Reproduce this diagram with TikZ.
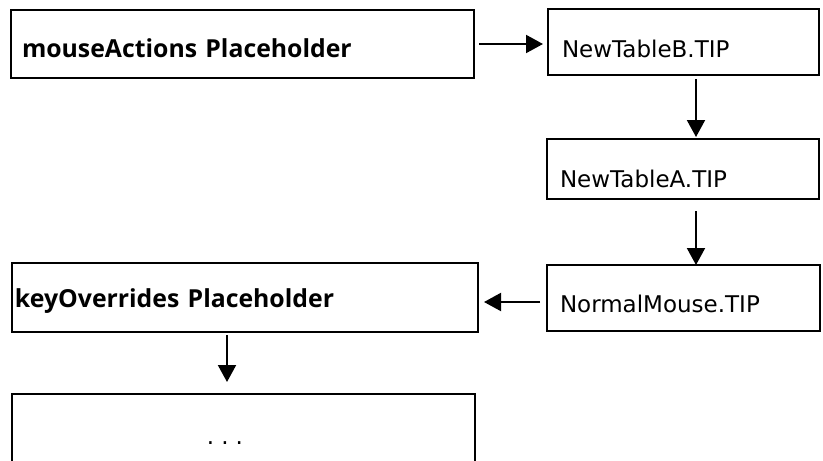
\documentclass[tikz,border=0pt]{standalone}
\usepackage{fontspec}
\setmainfont{Open Sans}
\newfontfamily\plainlabel{DejaVu Sans}
\usetikzlibrary{arrows.meta}
\begin{document}
\begin{tikzpicture}[x=1pt,y=-1pt,
  box/.style={draw, line width=2pt, anchor=north west, outer sep=0pt,
    inner ysep=0pt, align=left, font=\plainlabel\fontsize{23}{28}\selectfont},
  boldbox/.style={box, font=\fontsize{24.8}{28}\selectfont\bfseries},
  flow/.style={line width=2pt, -{Triangle[length=17pt,width=18pt]}}]
\useasboundingbox (0,0) rectangle (823,461);
\clip (0,0) rectangle (823,461);

% columns and rows the connectors run along
\coordinate (colx) at (696,0);
\coordinate (colk) at (227,0);
\coordinate (rowy) at (0,302);

% boxes
\node[boldbox, inner xsep=11pt, text width=441pt, text height=47pt, text depth=21pt]
  (mouse) at (11,10) {mouseActions Placeholder};
\node[box, inner xsep=14pt, text width=243pt, text height=48pt, text depth=18pt]
  (tableB) at (548,9) {NewTableB.TIP};
\node[box, inner xsep=13pt, text width=246pt, text height=48pt, text depth=12pt]
  (tableA) at (547,139) {NewTableA.TIP};
\node[box, inner xsep=13pt, text width=247pt, text height=47pt, text depth=19pt]
  (normal) at (547,265) {NormalMouse.TIP};
\node[boldbox, inner xsep=3pt, text width=460pt, text height=44pt, text depth=25pt]
  (keyov) at (12,263) {keyOverrides Placeholder};
\node[box, inner xsep=0pt, text width=463pt, text height=50pt, text depth=30pt]
  (more) at (12,394) {\hspace*{195pt}.\hspace{7pt}.\hspace{7pt}.};

% connectors
\draw[flow, shorten <=5pt, shorten >=5pt] (mouse.east) -- (mouse.east -| tableB.west);
\draw[flow, shorten <=4pt, shorten >=2pt] (tableB.south -| colx) -- (tableA.north -| colx);
\draw[flow, shorten <=12pt] (tableA.south -| colx) -- (normal.north -| colx);
\draw[flow, shorten <=7pt, shorten >=6pt] (normal.west |- rowy) -- (keyov.east |- rowy);
\draw[flow, shorten <=3pt, shorten >=12pt] (keyov.south -| colk) -- (more.north -| colk);
\end{tikzpicture}
\end{document}
